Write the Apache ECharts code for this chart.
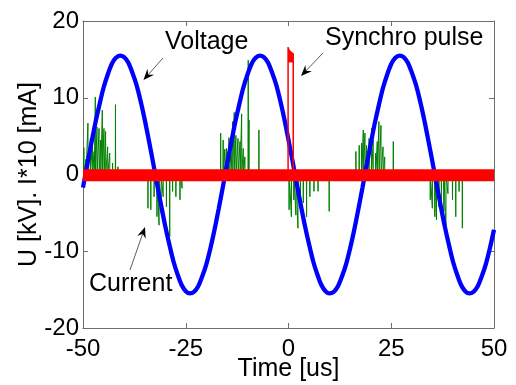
<!DOCTYPE html>
<html>
<head>
<meta charset="utf-8">
<script src="https://cdn.jsdelivr.net/npm/echarts@6/dist/echarts.min.js"></script>
<style>html,body{margin:0;padding:0;background:#fff}#c{width:516px;height:385px}</style>
</head>
<body>
<div id="c"></div>
<script>
// ---- data ----
const xTicks = [-50, -25, 0, 25, 50];
const yTicks = [-20, -10, 0, 10, 20];

// Voltage [kV], sampled every 1 us from -50 to 50
const voltageStart = -50;
const voltageValue = [
  -1.7, 1.2, 4.0, 6.7, 9.1, 11.3, 13.0, 14.4, 15.2, 15.5, 15.3, 14.6, 13.3, 11.7, 9.6, 7.2, 4.5,
  1.7, -1.2, -4.0, -6.7, -9.1, -11.3, -13.0, -14.4, -15.2, -15.5, -15.3, -14.6, -13.3, -11.7, -9.6, -7.2, -4.5,
  -1.7, 1.2, 4.0, 6.7, 9.1, 11.3, 13.0, 14.4, 15.2, 15.5, 15.3, 14.6, 13.3, 11.7, 9.6, 7.2, 4.5,
  1.7, -1.2, -4.0, -6.7, -9.1, -11.3, -13.0, -14.4, -15.2, -15.5, -15.3, -14.6, -13.3, -11.7, -9.6, -7.2, -4.5,
  -1.7, 1.2, 4.0, 6.7, 9.1, 11.3, 13.0, 14.4, 15.2, 15.5, 15.3, 14.6, 13.3, 11.7, 9.6, 7.2, 4.5,
  1.7, -1.2, -4.0, -6.7, -9.1, -11.3, -13.0, -14.4, -15.2, -15.5, -15.3, -14.6, -13.3, -11.7, -9.6, -7.2
];

// Current spikes (I*10 [mA])
const currentTime = [
  -49.8, -49.3, -48.8, -48.2, -47.7, -47.3, -47.0, -46.6, -46.1, -45.7, -45.3, -44.9, -44.5, -44.0, -43.5, -42.8, -42.1, -41.5,
  -34.2, -33.5, -32.7, -32.0, -31.5, -31.0, -30.5, -29.7, -28.9, -28.2, -27.4, -26.4, -25.9,
  -16.5, -15.9, -15.5, -15.1, -14.5, -14.0, -13.6, -13.2, -12.8, -12.3, -11.8, -11.4, -11.0, -10.6, -9.8, -9.6, -7.2,
  0.15, 0.7, 1.3, 1.8, 2.3, 2.9, 3.6, 4.4, 5.2, 6.2, 7.2, 9.9,
  16.4, 17.2, 17.8, 18.2, 18.6, 19.0, 19.6, 20.2, 20.6, 21.2, 21.6, 22.0, 22.5, 23.0, 23.4, 25.5,
  34.5, 35.0, 35.6, 36.0, 36.6, 37.2, 37.8, 38.3, 38.8, 39.9, 40.7, 41.5, 42.3
];
const currentValue = [
  3.5, 2.0, 6.7, 4.7, 4.5, 3.0, 10.1, 6.2, 6.0, 4.5, 8.4, 6.0, 5.6, 3.6, 2.8, 1.5, 9.1, 1.0,
  -4.4, -4.6, -2.9, -5.5, -6.6, -5.0, -2.9, -4.2, -8.1, -2.2, -2.9, -3.3, -1.8,
  5.4, 4.5, 3.3, 3.4, 4.8, 2.5, 6.9, 8.1, 5.1, 4.7, 4.3, 7.9, 3.4, 2.3, 14.9, 7.1, 5.8,
  -4.6, -5.5, -3.3, -5.3, -7.0, -3.7, -3.7, -5.5, -2.9, -2.2, -2.2, -4.8,
  3.0, 3.8, 4.1, 5.8, 5.4, 3.8, 4.7, 6.0, 4.5, 2.8, 4.3, 6.9, 6.4, 3.6, 2.3, 4.3,
  -3.3, -4.4, -5.5, -5.9, -4.2, -3.3, -4.8, -7.2, -2.5, -3.3, -5.5, -2.2, -7.0
];

// Synchro pulse (red)
const baseTime = [-50, 50];
const baseValue = [-0.1, -0.1];
const pulseTime = [-0.1, -0.1, 0.0, 0.1, 0.2, 0.3, 0.4, 0.5, 0.6, 0.7, 0.8, 0.9, 1.0, 1.15, 1.15];
const pulseValue = [0, 16.6, 14.6, 16.4, 14.7, 16.2, 14.6, 16.1, 14.7, 16.0, 14.6, 15.9, 14.8, 15.8, 0];

// ---- build series data ----
const voltageData = voltageValue.map((v, i) => [voltageStart + i, v]);
const currentData = [];
currentTime.forEach((t, i) => {
  currentData.push([t - 0.04, 0], [t, currentValue[i]], [t + 0.04, 0]);
});
const baseData = baseTime.map((t, i) => [t, baseValue[i]]);
const pulseData = pulseTime.map((t, i) => [t, pulseValue[i]]);

const FONT = '"Liberation Sans", Arial, sans-serif';
const AX = '#6e6e6e';

function arrow(sx, sy, tx, ty) {
  const dx = tx - sx, dy = ty - sy, len = Math.hypot(dx, dy);
  const ux = dx / len, uy = dy / len, nx = -uy, ny = ux;
  const L = 11, W = 4.5;
  return [
    { type: 'line', z: 100, shape: { x1: sx, y1: sy, x2: tx - ux * L * 0.6, y2: ty - uy * L * 0.6 },
      style: { stroke: '#333', lineWidth: 0.8 } },
    { type: 'polygon', z: 100, shape: { points: [
        [tx, ty],
        [tx - ux * L + nx * W, ty - uy * L + ny * W],
        [tx - ux * L * 0.65, ty - uy * L * 0.65],
        [tx - ux * L - nx * W, ty - uy * L - ny * W]] },
      style: { fill: '#000' } }
  ];
}
function label(text, x, y) {
  return { type: 'text', z: 100, x: x, y: y,
    style: { text: text, font: '25px ' + FONT, fill: '#000', textAlign: 'left', textVerticalAlign: 'middle' } };
}

const chart = echarts.init(document.getElementById('c'), null, { renderer: 'canvas' });
const axisCommon = {
  axisLine: { show: true, onZero: false, lineStyle: { color: AX, width: 1 } },
  axisTick: { show: true, inside: true, length: 5, lineStyle: { color: AX } },
  splitLine: { show: false }
};
chart.setOption({
  animation: false,
  backgroundColor: '#fff',
  grid: { left: 83, right: 22, top: 21, bottom: 57, containLabel: false, outerBoundsMode: 'none' },
  xAxis: [
    Object.assign({ type: 'value', min: xTicks[0], max: xTicks[xTicks.length - 1], interval: 25, position: 'bottom',
      name: 'Time [us]', nameLocation: 'middle', nameGap: 29, nameMoveOverlap: false,
      nameTextStyle: { fontSize: 25, fontFamily: FONT, color: '#000', verticalAlign: 'top' },
      axisLabel: { fontSize: 24, fontFamily: FONT, color: '#000', margin: 9 } }, axisCommon),
    Object.assign({ type: 'value', min: xTicks[0], max: xTicks[xTicks.length - 1], interval: 25, position: 'top',
      axisLabel: { show: false } }, axisCommon)
  ],
  yAxis: [
    Object.assign({ type: 'value', min: yTicks[0], max: yTicks[yTicks.length - 1], interval: 10, position: 'left',
      name: 'U [kV]. I*10 [mA]', nameLocation: 'middle', nameGap: 41, nameMoveOverlap: false,
      nameTextStyle: { fontSize: 25, fontFamily: FONT, color: '#000' },
      axisLabel: { fontSize: 24, fontFamily: FONT, color: '#000', margin: 4 } }, axisCommon),
    Object.assign({ type: 'value', min: yTicks[0], max: yTicks[yTicks.length - 1], interval: 10, position: 'right',
      axisLabel: { show: false } }, axisCommon)
  ],
  series: [
    { name: 'Current', type: 'line', data: currentData, showSymbol: false, symbol: 'none', z: 2,
      lineStyle: { color: '#008000', width: 1 }, clip: true },
    { name: 'Voltage', type: 'line', data: voltageData, showSymbol: false, symbol: 'none', z: 3, smooth: 0.3,
      lineStyle: { color: '#0000ff', width: 4.3 }, clip: true },
    { name: 'Noise', type: 'line', data: baseData, showSymbol: false, symbol: 'none', z: 4,
      lineStyle: { color: '#ff0000', width: 12, cap: 'butt' }, clip: true },
    { name: 'Synchro pulse', type: 'line', data: pulseData, showSymbol: false, symbol: 'none', z: 4,
      lineStyle: { color: '#ff0000', width: 1.5 }, clip: true }
  ],
  graphic: [
    label('Voltage', 165, 42.5),
    label('Synchro pulse', 325, 38.5),
    label('Current', 89, 284)
  ].concat(arrow(163, 58, 143.5, 80), arrow(323, 53, 301, 76), arrow(130, 270, 145, 227))
});
</script>
</body>
</html>
